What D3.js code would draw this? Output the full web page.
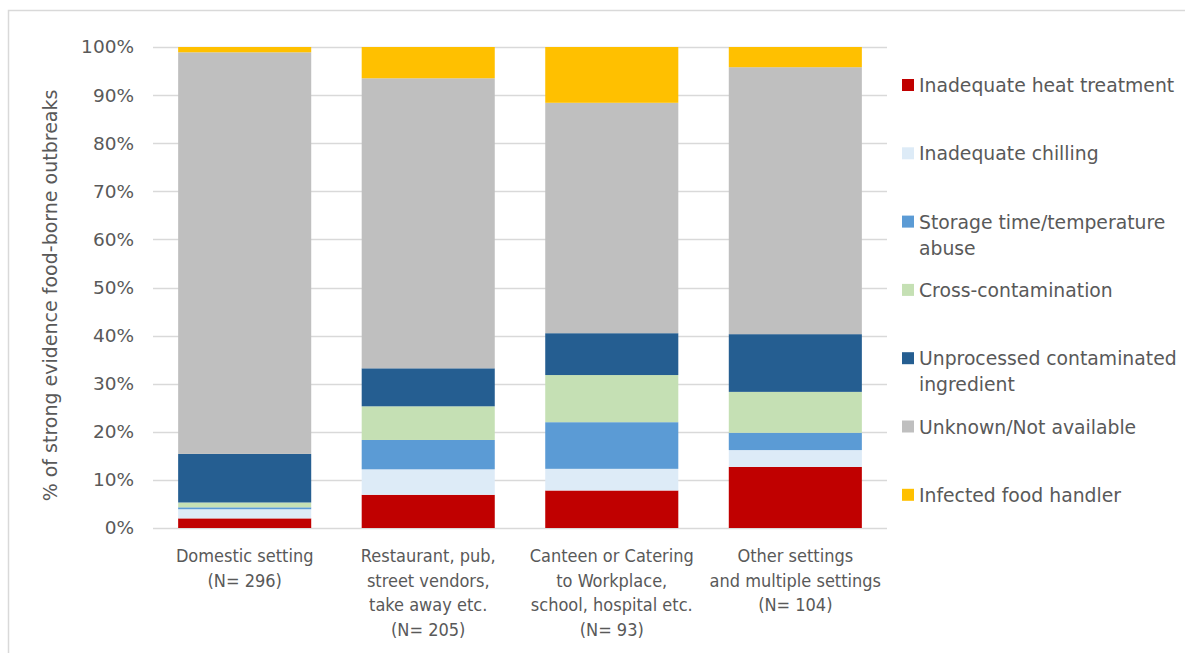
<!DOCTYPE html>
<html><head><meta charset="utf-8">
<script src="https://cdn.jsdelivr.net/npm/d3@7"></script>
<style>
html,body{margin:0;padding:0;background:#fff;}
text{font-family:"DejaVu Sans",Verdana,sans-serif;fill:#595959;}
</style></head>
<body>
<svg id="chart" width="1185" height="653"></svg>
<script>
// ---- data ----
const categories = [
  ["Domestic setting", "(N= 296)"],
  ["Restaurant, pub,", "street vendors,", "take away etc.", "(N= 205)"],
  ["Canteen or Catering", "to Workplace,", "school, hospital etc.", "(N= 93)"],
  ["Other settings", "and multiple settings", "(N= 104)"]
];
const seriesNames = [
  "Inadequate heat treatment",
  "Inadequate chilling",
  "Storage time/temperature abuse",
  "Cross-contamination",
  "Unprocessed contaminated ingredient",
  "Unknown/Not available",
  "Infected food handler"
];
const legendLines = [
  ["Inadequate heat treatment"],
  ["Inadequate chilling"],
  ["Storage time/temperature", "abuse"],
  ["Cross-contamination"],
  ["Unprocessed contaminated", "ingredient"],
  ["Unknown/Not available"],
  ["Infected food handler"]
];
const colors = ["#C00000", "#DDEBF7", "#5B9BD5", "#C5E0B4", "#255E91", "#BFBFBF", "#FFC000"];
// values in % per category, in series order
const heatTreatment   = [2.0, 6.9, 7.8, 12.7];
const chilling        = [1.9, 5.3, 4.5, 3.5];
const storageAbuse    = [0.4, 6.1, 9.7, 3.6];
const crossContam     = [1.0, 7.0, 9.8, 8.5];
const unprocessed     = [10.1, 7.9, 8.7, 12.0];
const unknown         = [83.5, 60.3, 47.9, 55.5];
const infectedHandler = [1.1, 6.5, 11.6, 4.2];
const yTicks = [0, 10, 20, 30, 40, 50, 60, 70, 80, 90, 100];
const yTitle = "% of strong evidence food-borne outbreaks";

const seriesValues = [heatTreatment, chilling, storageAbuse, crossContam, unprocessed, unknown, infectedHandler];
const table = categories.map((c, i) => {
  const row = {key: i};
  seriesNames.forEach((s, j) => row[s] = seriesValues[j][i]);
  return row;
});

const svg = d3.select("#chart");
// outer frame
svg.append("rect").attr("x", 8.5).attr("y", 10.5).attr("width", 1200).attr("height", 700)
  .attr("fill", "none").attr("stroke", "#D9D9D9").attr("stroke-width", 1.5);

const plotL = 153, plotR = 887, plotT = 47, plotB = 528;
const x = d3.scaleBand().domain(d3.range(categories.length)).range([plotL, plotR]).paddingInner(0.275).paddingOuter(0.137);
const y = d3.scaleLinear().domain([0, 100]).range([plotB, plotT]);

// grid
svg.append("g").selectAll("line").data(yTicks).join("line")
  .attr("x1", plotL).attr("x2", plotR)
  .attr("y1", d => Math.round(y(d)) + 0.5).attr("y2", d => Math.round(y(d)) + 0.5)
  .attr("stroke", "#D9D9D9").attr("stroke-width", 1.3);

// y axis labels
const yAxis = d3.axisLeft(y).tickValues(yTicks).tickFormat(d => d + "%").tickSize(0).tickPadding(0);
const ya = svg.append("g").attr("transform", `translate(134,0)`).call(yAxis);
ya.select(".domain").remove();
ya.selectAll("text").style("font-size", "18.5px").style("font-family", "DejaVu Sans").attr("fill", "#595959");

// stacks
const stack = d3.stack().keys(seriesNames);
const layers = stack(table);
svg.append("g").selectAll("g").data(layers).join("g")
  .attr("fill", (d, i) => colors[i])
  .selectAll("rect").data(d => d).join("rect")
  .attr("x", d => x(d.data.key))
  .attr("width", x.bandwidth())
  .attr("y", d => y(d[1]))
  .attr("height", d => y(d[0]) - y(d[1]));

// category labels
const cat = svg.append("g");
categories.forEach((lines, i) => {
  const cx = x(i) + x.bandwidth() / 2;
  const t = cat.append("text").attr("text-anchor", "middle")
    .attr("x", cx).attr("y", 562)
    .style("font-size", "18px").style("font-family", "'Liberation Sans Narrow','DejaVu Sans Condensed',sans-serif");
  lines.forEach((l, k) => t.append("tspan").attr("x", cx).attr("dy", k === 0 ? 0 : 24.5).text(l));
});

// y title
svg.append("text").attr("transform", `translate(57,${(plotT + plotB) / 2 + 8}) rotate(-90)`)
  .attr("text-anchor", "middle").style("font-size", "19px").text(yTitle);

// legend
const lg = svg.append("g");
legendLines.forEach((lines, i) => {
  const cy = 85 + i * 68.3;
  lg.append("rect").attr("x", 902).attr("y", cy - 6).attr("width", 12).attr("height", 12).attr("fill", colors[i]);
  const t = lg.append("text").attr("x", 919).attr("y", cy + 7).style("font-size", "18.8px");
  lines.forEach((l, k) => t.append("tspan").attr("x", 919).attr("dy", k === 0 ? 0 : 26).text(l));
});
</script>
</body></html>
